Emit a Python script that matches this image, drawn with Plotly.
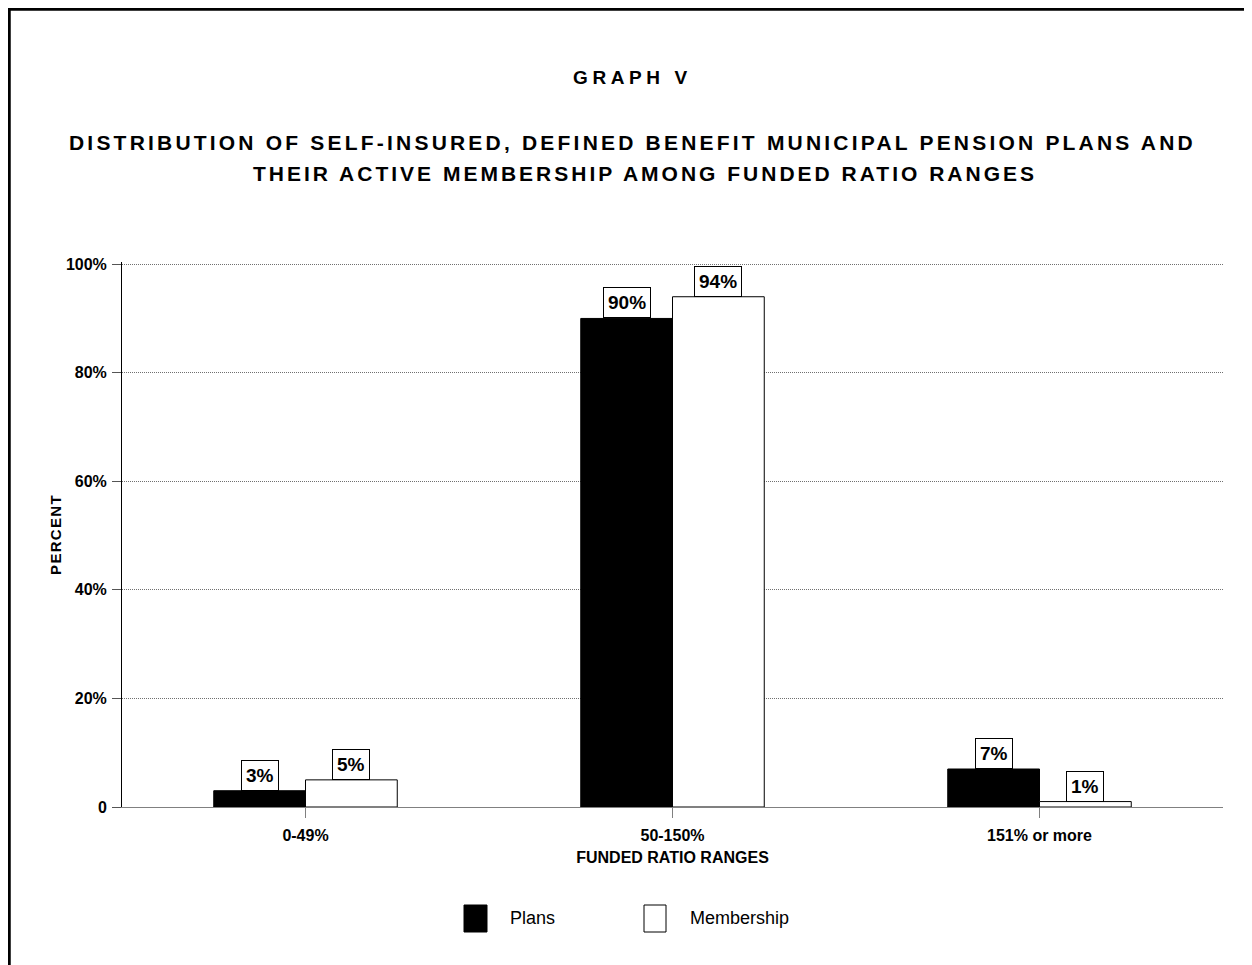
import plotly.graph_objects as go

categories = ["0-49%", "50-150%", "151% or more"]
series_names = ["Plans", "Membership"]
plans = [3, 90, 7]
membership = [5, 94, 1]
y_tickvals = [0, 20, 40, 60, 80, 100]
y_ticktext = ["0", "20%", "40%", "60%", "80%", "100%"]

FONT = "Liberation Sans, Arial, sans-serif"

# plot area geometry (screen px): left 122, right 1223, top 264 (=100%), bottom 807
PW, PH = 1101, 545


def px_x(px):
    return (px - 122) / PW


def px_y(py):
    return (807 - py) / PH


fig = go.Figure()
fig.add_trace(go.Bar(name=series_names[0], x=categories, y=plans,
                     marker=dict(color="black", line=dict(color="black", width=1)),
                     showlegend=False))
fig.add_trace(go.Bar(name=series_names[1], x=categories, y=membership,
                     marker=dict(color="white", line=dict(color="black", width=1)),
                     showlegend=False))

annotations = []
for i, (p, m) in enumerate(zip(plans, membership)):
    for off, v in ((-0.125, p), (0.125, m)):
        annotations.append(dict(x=i + off, y=v, xref="x", yref="y", text=f"<b>{v}%</b>",
                                showarrow=False, yanchor="bottom", xanchor="center",
                                font=dict(family=FONT, size=19, color="black"),
                                bgcolor="white", bordercolor="black", borderwidth=1,
                                borderpad=4))


def spaced(t, ls):
    return f'<span style="letter-spacing:{ls}px"><b>{t}</b></span>'


annotations += [
    dict(x=px_x(632), y=px_y(77), xref="paper", yref="paper", showarrow=False,
         text=spaced("GRAPH V", 4.6), font=dict(family=FONT, size=19, color="black"),
         xanchor="center", yanchor="middle"),
    dict(x=px_x(632), y=px_y(142), xref="paper", yref="paper", showarrow=False,
         text=spaced("DISTRIBUTION OF SELF-INSURED, DEFINED BENEFIT MUNICIPAL PENSION PLANS AND", 3.2),
         font=dict(family=FONT, size=21, color="black"), xanchor="center", yanchor="middle"),
    dict(x=px_x(645), y=px_y(173), xref="paper", yref="paper", showarrow=False,
         text=spaced("THEIR ACTIVE MEMBERSHIP AMONG FUNDED RATIO RANGES", 3.0),
         font=dict(family=FONT, size=21, color="black"), xanchor="center", yanchor="middle"),
    dict(x=px_x(508), y=px_y(918), xref="paper", yref="paper", showarrow=False,
         text=series_names[0], font=dict(family=FONT, size=18, color="black"),
         xanchor="left", yanchor="middle"),
    dict(x=px_x(688), y=px_y(918), xref="paper", yref="paper", showarrow=False,
         text=series_names[1], font=dict(family=FONT, size=18, color="black"),
         xanchor="left", yanchor="middle"),
]

shapes = [
    # page border (left and top)
    dict(type="line", xref="paper", yref="paper", x0=px_x(9), x1=px_x(9), y0=px_y(9), y1=px_y(975),
         line=dict(color="black", width=3.5)),
    dict(type="line", xref="paper", yref="paper", x0=px_x(7.3), x1=px_x(1270), y0=px_y(9), y1=px_y(9),
         line=dict(color="black", width=3.5)),
    # legend swatches
    dict(type="rect", xref="paper", yref="paper", x0=px_x(464), x1=px_x(487),
         y0=px_y(932), y1=px_y(905), fillcolor="black", line=dict(color="black", width=1)),
    dict(type="rect", xref="paper", yref="paper", x0=px_x(644), x1=px_x(666),
         y0=px_y(932), y1=px_y(905), fillcolor="white", line=dict(color="black", width=1)),
]

fig.update_layout(
    width=1244, height=957,
    margin=dict(l=114, r=29, t=254, b=158),
    paper_bgcolor="white", plot_bgcolor="white",
    barmode="group", bargap=0.5, bargroupgap=0,
    annotations=annotations, shapes=shapes,
    showlegend=False,
)
fig.update_xaxes(
    type="category", showgrid=False, showline=True, linecolor="#808080", linewidth=1,
    ticks="outside", ticklen=10, tickcolor="#808080", tickwidth=1,
    ticktext=[f"<b>{c}</b>" for c in categories], tickvals=categories,
    ticklabelstandoff=4,
    tickfont=dict(family=FONT, size=16, color="black"),
    title=dict(text="<b>FUNDED RATIO RANGES</b>", font=dict(family=FONT, size=16, color="black"), standoff=8),
)
fig.update_yaxes(
    range=[0, 100.4], tickvals=y_tickvals, ticktext=[f"<b>{t}</b>" for t in y_ticktext],
    showgrid=True, gridcolor="#707070", griddash="1px,1px", gridwidth=1,
    zeroline=True, zerolinecolor="#808080", zerolinewidth=1,
    showline=True, linecolor="black", linewidth=1,
    ticks="outside", ticklen=9, tickcolor="#555555",
    ticklabelstandoff=2,
    tickfont=dict(family=FONT, size=16, color="black"),
    title=dict(text=spaced("PERCENT", 1.3), font=dict(family=FONT, size=15, color="black"), standoff=0),
)

fig.write_html("out.html")
